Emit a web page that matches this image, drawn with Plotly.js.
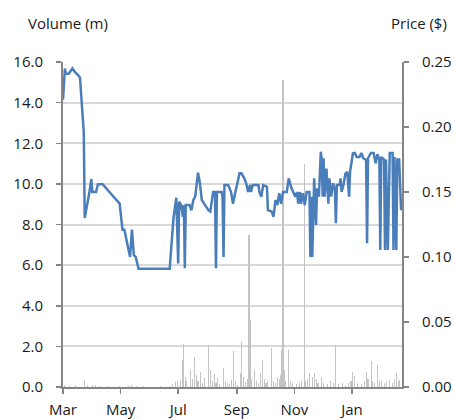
<!DOCTYPE html>
<html>
<head>
<meta charset="utf-8">
<script src="https://cdn.plot.ly/plotly-3.0.1.min.js"></script>
<style>html,body{margin:0;padding:0;background:#fff;}#chart{width:453px;height:419px;}</style>
</head>
<body>
<div id="chart"></div>
<script>
// Price series (right axis, $)
var priceDates = [
"2013-03-01","2013-03-03","2013-03-04","2013-03-07","2013-03-11","2013-03-14","2013-03-17","2013-03-19",
"2013-03-23","2013-03-24","2013-03-29","2013-03-31","2013-04-01","2013-04-05","2013-04-07","2013-04-12",
"2013-04-30","2013-05-03","2013-05-05","2013-05-11","2013-05-13","2013-05-15","2013-05-17","2013-05-20",
"2013-06-22","2013-06-26","2013-06-29","2013-07-01","2013-07-02","2013-07-04","2013-07-06","2013-07-07",
"2013-07-08","2013-07-09","2013-07-13","2013-07-15","2013-07-17","2013-07-19","2013-07-22","2013-07-24",
"2013-07-26","2013-07-29","2013-08-02","2013-08-04","2013-08-06","2013-08-07","2013-08-09","2013-08-10",
"2013-08-11","2013-08-16","2013-08-17","2013-08-18","2013-08-19","2013-08-23","2013-08-26","2013-08-28",
"2013-08-31","2013-09-04","2013-09-06","2013-09-09","2013-09-11","2013-09-13","2013-09-15","2013-09-16",
"2013-09-18","2013-09-24","2013-09-25","2013-09-27","2013-09-29","2013-10-03","2013-10-04","2013-10-08",
"2013-10-10","2013-10-12","2013-10-14","2013-10-16","2013-10-18","2013-10-20","2013-10-24","2013-10-26",
"2013-10-29","2013-10-31","2013-11-02","2013-11-04","2013-11-05","2013-11-07","2013-11-08","2013-11-10",
"2013-11-12","2013-11-14","2013-11-17","2013-11-18","2013-11-19","2013-11-20","2013-11-21","2013-11-22",
"2013-11-24","2013-11-25","2013-11-27","2013-11-28","2013-11-29","2013-11-30","2013-12-01","2013-12-02",
"2013-12-03","2013-12-05","2013-12-07","2013-12-08","2013-12-10","2013-12-12","2013-12-14","2013-12-15",
"2013-12-16","2013-12-19","2013-12-20","2013-12-21","2013-12-23","2013-12-25","2013-12-27","2013-12-29",
"2013-12-30","2014-01-02","2014-01-04","2014-01-06","2014-01-09","2014-01-11","2014-01-13","2014-01-16",
"2014-01-17","2014-01-18","2014-01-21","2014-01-24","2014-01-26","2014-01-28","2014-01-30","2014-01-31",
"2014-02-01","2014-02-04","2014-02-05","2014-02-06","2014-02-08","2014-02-10","2014-02-13","2014-02-14",
"2014-02-15","2014-02-17","2014-02-18","2014-02-20","2014-02-22"
];
var priceValues = [
0.221,0.245,0.241,0.241,0.245,0.242,0.240,0.238,
0.196,0.130,0.150,0.160,0.150,0.150,0.156,0.156,
0.141,0.121,0.121,0.100,0.121,0.1015,0.100,0.091,
0.091,0.130,0.1456,0.095,0.1425,0.140,0.131,0.140,
0.0913,0.140,0.140,0.136,0.1438,0.1464,0.1648,0.1567,
0.1438,0.140,0.136,0.135,0.1464,0.150,0.150,0.0913,
0.150,0.150,0.1464,0.100,0.1554,0.1554,0.150,0.141,
0.1515,0.1644,0.1644,0.1605,0.1567,0.150,0.1554,0.150,
0.1554,0.1554,0.150,0.1464,0.1554,0.154,0.136,0.135,
0.131,0.1438,0.140,0.149,0.141,0.150,0.150,0.1605,
0.1528,0.149,0.1464,0.150,0.141,0.150,0.141,0.149,
0.140,0.150,0.150,0.100,0.1464,0.100,0.141,0.1605,
0.1246,0.1528,0.1464,0.159,0.181,0.175,0.1464,0.176,
0.1464,0.168,0.141,0.1605,0.1464,0.1567,0.1515,0.126,
0.1554,0.1554,0.1605,0.150,0.1554,0.164,0.1656,0.1464,
0.1656,0.1797,0.180,0.177,0.177,0.180,0.176,0.1746,
0.1105,0.176,0.180,0.180,0.172,0.179,0.175,0.1054,
0.177,0.175,0.1054,0.175,0.1054,0.180,0.180,0.1054,
0.177,0.1054,0.175,0.175,0.136
];

// Volume series (left axis, millions)
var volumeDates = [
"2013-03-03","2013-03-08","2013-03-14","2013-03-24","2013-03-27","2013-04-01","2013-04-04","2013-04-09",
"2013-04-17","2013-04-30","2013-05-09","2013-05-13","2013-05-18","2013-05-25","2013-06-01","2013-06-12",
"2013-06-22","2013-06-25","2013-06-28","2013-06-30","2013-07-03","2013-07-06","2013-07-07","2013-07-09",
"2013-07-10","2013-07-14","2013-07-16","2013-07-18","2013-07-20","2013-07-22","2013-07-25","2013-07-27",
"2013-07-29","2013-08-02","2013-08-04","2013-08-06","2013-08-08","2013-08-10","2013-08-12","2013-08-14",
"2013-08-18","2013-08-20","2013-08-22","2013-08-24","2013-08-26","2013-08-29","2013-08-31","2013-09-02",
"2013-09-05","2013-09-06","2013-09-08","2013-09-10","2013-09-12","2013-09-14","2013-09-15","2013-09-17",
"2013-09-20","2013-09-22","2013-09-24","2013-09-26","2013-09-28","2013-09-30","2013-10-02","2013-10-04",
"2013-10-08","2013-10-10","2013-10-12","2013-10-14","2013-10-16","2013-10-17","2013-10-18","2013-10-19",
"2013-10-20","2013-10-21","2013-10-23","2013-10-26","2013-10-28","2013-10-30","2013-11-03","2013-11-06",
"2013-11-09","2013-11-12","2013-11-13","2013-11-15","2013-11-17","2013-11-20","2013-11-22","2013-11-24",
"2013-11-26","2013-11-30","2013-12-02","2013-12-06","2013-12-09","2013-12-12","2013-12-15","2013-12-18",
"2013-12-22","2013-12-25","2013-12-28","2013-12-31","2014-01-02","2014-01-04","2014-01-07","2014-01-11",
"2014-01-14","2014-01-16","2014-01-18","2014-01-22","2014-01-23","2014-01-25","2014-01-28","2014-01-30",
"2014-02-01","2014-02-04","2014-02-07","2014-02-10","2014-02-13","2014-02-15","2014-02-17","2014-02-19",
"2014-02-20"
];
var volumeValues = [
0.10,0.05,0.08,0.35,0.10,0.12,0.08,0.06,
0.04,0.03,0.05,0.10,0.04,0.06,0.02,0.03,
0.05,0.15,0.26,0.30,0.35,1.33,2.10,0.50,
0.30,0.84,0.40,1.50,0.60,0.30,0.75,0.20,
0.45,2.07,0.84,0.30,0.65,0.20,0.45,0.15,
0.92,0.30,0.20,0.15,0.35,1.79,0.30,0.10,
0.70,2.23,0.50,0.25,0.40,7.50,3.30,0.40,
0.84,0.30,0.20,0.70,1.33,0.40,0.20,0.30,
1.90,0.30,0.20,0.50,0.40,0.60,1.80,1.60,
15.10,0.85,0.30,1.80,0.30,0.20,0.15,0.20,
0.30,11.00,0.30,0.40,0.70,0.50,0.70,0.40,
0.20,0.50,0.20,0.15,0.30,0.20,2.07,0.15,
0.20,0.10,0.20,0.30,0.75,0.55,0.20,0.15,
0.30,0.75,0.40,1.30,0.30,0.20,1.08,0.30,
0.35,0.20,0.30,0.35,0.20,0.40,0.67,0.30,
0.35
];

var xTickStart = "2013-03-01";
var xRange = ["2013-03-01", "2014-02-23"];
var volumeTitle = "Volume (m)";
var priceTitle = "Price ($)";

var FONT = "'Open Sans', 'Noto Sans', sans-serif";
var TXT = "#1a1a1a";
var AXIS = "#868686";
var FS = 15;

var traces = [
  {
    type: "bar",
    x: volumeDates,
    y: volumeValues,
    yaxis: "y",
    marker: {color: "#c4c4c4", line: {width: 0}},
    width: 86400000 * 1.15,
    hoverinfo: "skip"
  },
  {
    type: "scatter",
    mode: "lines",
    x: priceDates,
    y: priceValues,
    yaxis: "y2",
    line: {color: "#4a7ebb", width: 2.5},
    hoverinfo: "skip"
  }
];

var layout = {
  width: 453,
  height: 419,
  margin: {l: 63, r: 51, t: 62, b: 32, pad: 0},
  paper_bgcolor: "#ffffff",
  plot_bgcolor: "#ffffff",
  showlegend: false,
  bargap: 0,
  font: {family: FONT, size: FS, color: TXT},
  xaxis: {
    type: "date",
    range: xRange,
    tick0: xTickStart,
    dtick: "M2",
    tickformat: "%b",
    ticks: "outside",
    ticklen: 5,
    tickwidth: 1.5,
    tickcolor: AXIS,
    showline: true,
    linecolor: AXIS,
    linewidth: 2,
    showgrid: false,
    zeroline: false,
    ticklabelstandoff: 3,
    tickfont: {family: FONT, size: FS, color: TXT}
  },
  yaxis: {
    range: [0, 16],
    dtick: 2,
    tick0: 0,
    tickformat: ".1f",
    ticks: "outside",
    ticklen: 5,
    tickwidth: 1.5,
    tickcolor: AXIS,
    showline: true,
    linecolor: AXIS,
    linewidth: 2,
    showgrid: true,
    gridcolor: "#d9d9d9",
    gridwidth: 2,
    zeroline: false,
    ticklabelstandoff: 10,
    tickfont: {family: FONT, size: FS, color: TXT}
  },
  yaxis2: {
    range: [0, 0.25],
    dtick: 0.05,
    tick0: 0,
    tickformat: ".2f",
    overlaying: "y",
    side: "right",
    ticks: "outside",
    ticklen: 5,
    tickwidth: 1.5,
    tickcolor: AXIS,
    showline: true,
    linecolor: AXIS,
    linewidth: 2,
    showgrid: false,
    zeroline: false,
    ticklabelstandoff: 10,
    tickfont: {family: FONT, size: FS, color: TXT}
  },
  annotations: [
    {text: volumeTitle, xref: "paper", yref: "paper", x: -0.108, y: 1.12, xanchor: "left", yanchor: "middle",
     showarrow: false, font: {family: FONT, size: FS, color: TXT}},
    {text: priceTitle, xref: "paper", yref: "paper", x: 1.14, y: 1.12, xanchor: "right", yanchor: "middle",
     showarrow: false, font: {family: FONT, size: FS, color: TXT}}
  ]
};

Plotly.newPlot("chart", traces, layout, {staticPlot: true, displayModeBar: false});
</script>
</body>
</html>
